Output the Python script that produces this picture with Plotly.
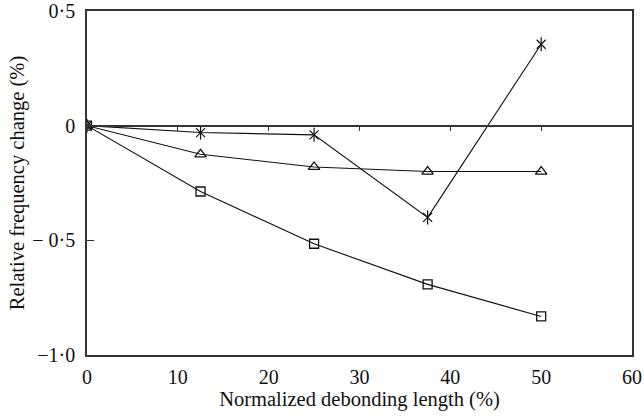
import plotly.graph_objects as go

# Normalized debonding length (%) at each measurement
debond_length = [0, 12.5, 25, 37.5, 50]

# Relative frequency change (%) for the three modes
mode_star = [0, -0.03, -0.04, -0.40, 0.355]
mode_triangle = [0, -0.125, -0.18, -0.20, -0.20]
mode_square = [0, -0.287, -0.515, -0.692, -0.832]

x_ticks = [0, 10, 20, 30, 40, 50, 60]
y_ticks = [0.5, 0, -0.5, -1.0]
y_tick_text = ["0·5", "0", "− 0·5", "−1·0"]

FONT = "Liberation Serif, Times New Roman, serif"
INK = "#111111"
TICK_SIZE = 20
TITLE_SIZE = 20.5

fig = go.Figure()

line_style = dict(color=INK, width=1.1)

fig.add_trace(go.Scatter(
    x=debond_length, y=mode_square, mode="lines+markers",
    line=line_style,
    marker=dict(symbol="square-open", size=9, color=INK, line=dict(width=1.3, color=INK)),
    showlegend=False,
))
fig.add_trace(go.Scatter(
    x=debond_length, y=mode_triangle, mode="lines+markers",
    line=line_style,
    marker=dict(symbol="triangle-up-open", size=10, color=INK, line=dict(width=1.3, color=INK)),
    showlegend=False,
))
# six-spoke asterisk: an x plus a vertical stroke
fig.add_trace(go.Scatter(
    x=debond_length, y=mode_star, mode="lines+markers",
    line=line_style,
    marker=dict(symbol="x-thin-open", size=9, color=INK, line=dict(width=1.2, color=INK)),
    showlegend=False,
))
fig.add_trace(go.Scatter(
    x=debond_length, y=mode_star, mode="markers",
    marker=dict(symbol="line-ns-open", size=10, color=INK, line=dict(width=1.2, color=INK)),
    showlegend=False, hoverinfo="skip",
))

# zero reference axis carrying the x ticks
fig.add_trace(go.Scatter(x=[0], y=[0], xaxis="x2", mode="markers",
                         marker=dict(opacity=0), showlegend=False, hoverinfo="skip"))

fig.update_layout(
    width=644, height=417,
    margin=dict(l=87, r=12, t=11, b=62),
    paper_bgcolor="white", plot_bgcolor="white",
    font=dict(family=FONT, size=TICK_SIZE, color=INK),
    xaxis=dict(
        range=[0, 60], tickvals=x_ticks, ticktext=[str(v) for v in x_ticks],
        showgrid=False, zeroline=False, automargin=False,
        showline=True, mirror=True, linecolor="#333333", linewidth=1.5,
        ticks="", ticklabelstandoff=3, ticklabeloverflow="allow",
        title=dict(text="Normalized debonding length (%)", standoff=0,
                   font=dict(family=FONT, size=TITLE_SIZE)),
        tickfont=dict(family=FONT, size=TICK_SIZE),
    ),
    xaxis2=dict(
        range=[0, 60], tickvals=x_ticks, overlaying="x", anchor="free",
        position=2 / 3, side="bottom", automargin=False,
        showgrid=False, zeroline=False, showticklabels=False,
        showline=True, linecolor="#333333", linewidth=1.5,
        ticks="outside", ticklen=5, tickwidth=1.3, tickcolor="#333333",
    ),
    yaxis=dict(
        range=[-1.0, 0.5], tickvals=y_ticks, ticktext=y_tick_text,
        showgrid=False, zeroline=False, automargin=False,
        showline=True, mirror=True, linecolor="#333333", linewidth=1.5,
        ticks="inside", ticklen=7, tickwidth=1.3, tickcolor="#333333",
        ticklabelstandoff=6, ticklabeloverflow="allow",
        title=dict(text="Relative frequency change (%)", standoff=2,
                   font=dict(family=FONT, size=TITLE_SIZE)),
        tickfont=dict(family=FONT, size=TICK_SIZE),
    ),
)

fig.write_html("out.html")
